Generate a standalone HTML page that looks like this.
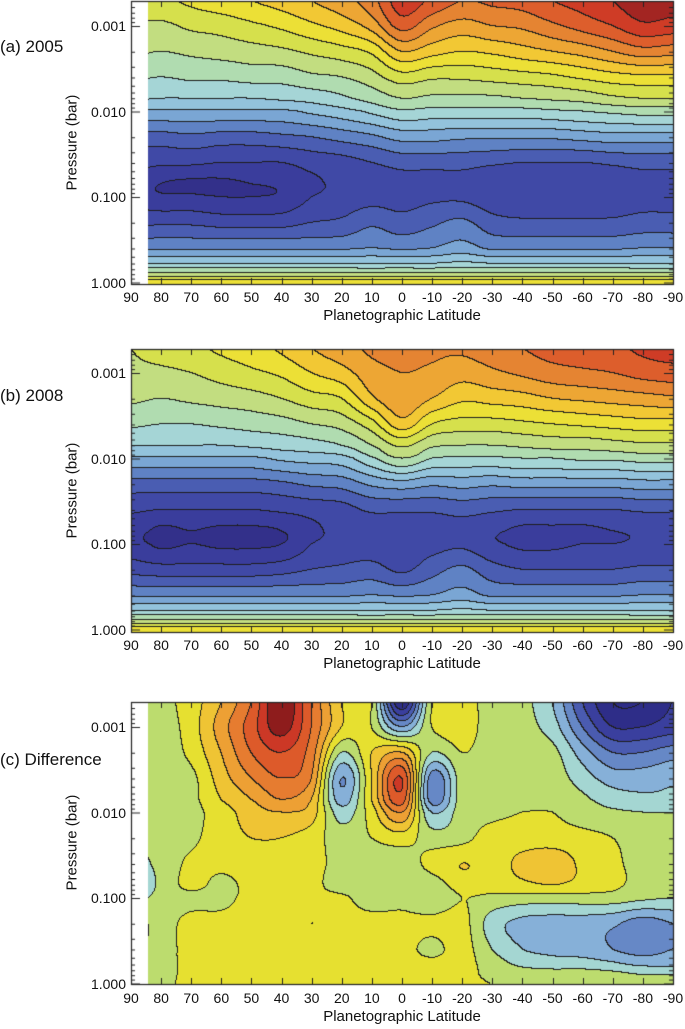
<!DOCTYPE html>
<html><head><meta charset="utf-8">
<style>
html,body{margin:0;padding:0;background:#fff;}
#wrap{position:relative;width:685px;height:1029px;overflow:hidden;font-family:"Liberation Sans",sans-serif;color:#111;}
canvas{position:absolute;left:0;top:0;}
.t{position:absolute;white-space:nowrap;line-height:1;}
.yl{font-size:14px;text-align:right;width:60px;}
.xl{font-size:14px;text-align:center;width:30px;}
.xt{font-size:15px;text-align:center;width:300px;}
.yt{font-size:15px;transform:rotate(-90deg);transform-origin:center;text-align:center;width:140px;}
.pl{font-size:17px;}
</style></head>
<body>
<div id="wrap">
<canvas id="cv" width="685" height="1029"></canvas>
</div>
<script>
// Shared vertical levels (log10 pressure in bar)
const levelsLogP = [-3.3,-3.0,-2.7,-2.4,-2.15,-2.0,-1.7,-1.4,-1.15,-1.0,-0.7,-0.4,-0.22,-0.1,0.02];
const latitudes = [90,80,70,60,50,40,30,20,10,0,-10,-20,-30,-40,-50,-60,-70,-80,-90];
const xTickLabels = ["90","80","70","60","50","40","30","20","10","0","-10","-20","-30","-40","-50","-60","-70","-80","-90"];
const yTickLabels = ["0.001","0.010","0.100","1.000"];

// Panel (a) 2005 temperatures, one array per latitude column (top -> bottom levels)
const temp2005 = [
 [127,125,121,116,111,104,93,87,83,83,89,99,110,121,134],
 [129,124,120,115,110,104,93,86,80,81,89,99,110,121,134],
 [131,126,121,116,110,104,94,86,79,81,89,99,110,121,134],
 [133,127,122,116,110,104,93,85,79,80,88,99,110,121,134],
 [135,129,123,117,110,104,93,85,80,80,88,99,110,121,134],
 [137,131,124,117,111,104,94,85,81,81,88,99,110,121,134],
 [140,134,126,119,112,106,95,87,84,85,90,99,110,121,134],
 [143,137,128,120,114,108,97,88,86,87,91,99,110,121,134],
 [148,142,131,123,117,111,99,90,87,88,94,100,110,121,134],
 [158,152,140,128,120,114,102,92,88,88,92,99,110,121,134],
 [154,146,137,126,119,113,102,92,88,89,94,100,110,121,134],
 [150,143,135,126,119,113,101,92,88,89,96,102,111,121,134],
 [151,145,136,127,119,113,101,91,86,87,92,99,110,121,134],
 [152,146,138,128,120,113,101,90,86,86,91,99,110,121,134],
 [155,149,140,129,121,114,101,90,86,86,91,99,110,121,134],
 [157,152,142,131,122,115,102,90,86,86,91,99,110,121,134],
 [160,155,145,133,124,116,103,91,87,87,91,99,110,121,134],
 [163,159,148,134,125,117,103,92,88,88,92,100,110,121,134],
 [162,158,147,134,125,117,103,92,88,88,92,100,110,121,134]
];
// Panel (b) 2008 temperatures
const temp2008 = [
 [125,124,121,116,110,104,93,86,82,82,88,99,110,121,134],
 [127,124,120,115,110,104,93,85,79,79,87,99,110,121,134],
 [129,125,121,115,110,104,93,85,80,80,87,99,110,121,134],
 [131,127,122,116,110,104,93,85,79,79,87,99,110,121,134],
 [133,129,123,117,111,104,93,85,79,79,87,99,110,121,134],
 [136,131,125,118,112,106,94,86,80,80,88,99,110,121,134],
 [140,135,128,120,113,107,96,87,84,85,90,99,110,121,134],
 [143,138,130,122,115,108,97,88,86,87,91,99,110,121,134],
 [146,143,139,128,120,114,101,91,87,87,92,100,110,121,134],
 [147,145,144,138,126,120,103,91,87,87,89,99,110,121,134],
 [146,144,140,130,121,115,101,91,87,88,93,100,110,121,134],
 [146,142,136,128,120,114,102,92,88,89,96,102,111,121,134],
 [148,144,137,128,120,114,101,91,86,86,92,99,110,121,134],
 [150,146,138,129,121,115,102,90,84,84,90,99,110,121,134],
 [152,148,140,130,122,115,102,90,84,84,90,99,110,121,134],
 [153,149,141,131,122,116,102,90,84,85,90,99,110,121,134],
 [154,150,142,132,123,116,102,90,85,85,90,99,110,121,134],
 [156,152,143,133,124,117,103,91,86,86,91,100,110,121,134],
 [157,153,144,133,124,117,103,91,86,86,91,100,110,121,134]
];
// Panel (c) difference, one array per pressure level (columns = latitudes)
const diffRows = [
 [-0.3,-0.3,0.5,2,4,7,4,1,0,-7,0,0.5,-0.5,-0.7,-2,-5,-7,-7,-6],
 [-0.3,-0.5,0.5,2.5,4.5,6.5,4,1,0,-3,0,0.5,-0.5,-0.7,-1.5,-4,-6,-6,-5.5],
 [-0.5,-0.7,0.3,2,4,5,3.5,-1,1,2,-1,0,-0.5,-0.7,-0.7,-2.5,-4,-4,-3.5],
 [-0.5,-0.8,-0.3,1.5,3,4,3,-3,1,5,-3.5,-0.5,-0.6,-0.7,-0.5,-1.5,-2.5,-2.5,-2.2],
 [-0.5,-0.7,-0.3,1,2,3,2,-2.5,1,4.5,-3.5,-0.5,-0.5,-0.3,-0.3,-0.8,-1.5,-1.8,-1.8],
 [-0.8,-0.5,-0.3,0.5,1.5,2,1.5,-1.5,0.5,3,-2,-0.5,-0.3,0,0,-0.5,-0.8,-1,-1],
 [-1,-0.5,-0.2,0.5,1,1,0.5,-0.5,0,0.5,-0.5,-0.3,0.5,0.6,0.5,0.3,0,-0.5,-0.5],
 [-1.5,-0.7,0.2,0.3,0.5,0.5,0.3,-0.3,-0.5,-0.5,0.3,1,0.7,1.2,1.6,0.8,0.2,-0.3,-0.5],
 [-2,-0.8,0.3,-0.3,0.3,0.3,0.3,-0.5,-0.5,-0.5,-0.5,0.5,0.5,0.8,1,0.7,0.2,-0.3,-0.6],
 [-1.5,-0.6,-0.3,-0.3,0.3,0.3,0.3,0.2,-0.5,-0.3,-0.8,0,-0.3,-0.5,-0.5,-0.5,-0.5,-0.8,-1],
 [0.5,-0.3,0.3,0.3,0.5,0.3,1,0.4,0.4,0.3,0.3,0.4,-1.5,-2.3,-2.5,-2.5,-2.8,-3.5,-3],
 [0.3,-0.3,0.3,0.3,0.3,0.3,0.3,0.4,0.3,0.4,-0.3,0.4,-1,-2,-2.3,-2.5,-3,-3.5,-3],
 [0.3,-0.3,0.3,0.3,0.3,0.3,0.3,0.4,0.3,0.4,0.3,0.4,-0.5,-1.2,-1.5,-1.5,-1.8,-2.2,-2.2],
 [0.3,-0.3,0.3,0.3,0.3,0.3,0.3,0.4,0.3,0.4,0.3,0.4,-0.3,-0.5,-0.5,-0.5,-0.7,-1,-1],
 [0.3,-0.2,0.3,0.3,0.3,0.3,0.3,0.4,0.3,0.4,0.3,0.4,0,-0.3,-0.3,-0.3,-0.5,-0.5,-0.5]
];

const tempColors = ['#33308a','#3a3d9c','#4049a6','#4a5db2','#5f82c4','#7aa6d4','#93c3dc','#a5d5d6','#b0dcb0','#c2dd80','#d6e04c','#ece036','#f2c834','#eda634','#e58432','#dd5e2c','#cf3c26','#a32522'];
const diffColors = ['#2e2d88','#3a3f9e','#4a5bb0','#6688c6','#86b0d8','#a4d6d2','#bcdc6e','#e6e030','#efc434','#eda034','#e67c30','#dd5a2a','#cc3826','#8e1c1c'];

const X0=131, X1=673;
const panels = [
 {name:'panel-a-2005', top:1, bottom:284, y001:26, dataX:148, get:(r,c)=>temp2005[c][r], band:v=>Math.floor((v-75)/5), colors:tempColors,
  label:'(a) 2005', labelY:38, ticksY:290, titleY:308},
 {name:'panel-b-2008', top:349, bottom:632, y001:373, dataX:131, get:(r,c)=>temp2008[c][r], band:v=>Math.floor((v-75)/5), colors:tempColors,
  label:'(b) 2008', labelY:387, ticksY:638, titleY:656},
 {name:'panel-c-difference', top:702, bottom:984, y001:727, dataX:148, get:(r,c)=>diffRows[r][c], band:v=>Math.floor(v)+7, colors:diffColors,
  label:'(c) Difference', labelY:751, ticksY:991, titleY:1009}
];
const DEC=85.5;

function hex(h){return [parseInt(h.substr(1,2),16),parseInt(h.substr(3,2),16),parseInt(h.substr(5,2),16)];}
function xOfLat(lat){return X0+(90-lat)/180*(X1-X0);}
function lPos(L){
  const n=levelsLogP.length;
  if(L<=levelsLogP[0])return 0;
  for(let i=0;i<n-1;i++){if(L<=levelsLogP[i+1])return i+(L-levelsLogP[i])/(levelsLogP[i+1]-levelsLogP[i]);}
  return n-1;
}
function cr(p0,p1,p2,p3,t){return 0.5*((2*p1)+(-p0+p2)*t+(2*p0-5*p1+4*p2-p3)*t*t+(-p0+3*p1-3*p2+p3)*t*t*t);}
function sample(P,fr,fc){
  const nr=levelsLogP.length,nc=latitudes.length;
  const r=Math.min(Math.floor(fr),nr-2),c=Math.min(Math.floor(fc),nc-2);
  const tr=fr-r,tc=fc-c;
  const cl=(v,m)=>Math.max(0,Math.min(m-1,v));
  const rows=[];
  for(let i=-1;i<=2;i++){
    const rr=cl(r+i,nr);
    rows.push(cr(P.get(rr,cl(c-1,nc)),P.get(rr,c),P.get(rr,cl(c+1,nc)),P.get(rr,cl(c+2,nc)),tc));
  }
  return cr(rows[0],rows[1],rows[2],rows[3],tr);
}

const cv=document.getElementById('cv');const ctx=cv.getContext('2d');
ctx.fillStyle='#fff';ctx.fillRect(0,0,685,1029);
const wrap=document.getElementById('wrap');
function addText(cls,txt,x,y,name){const d=document.createElement('div');d.className='t '+cls;d.textContent=txt;d.style.left=x+'px';d.style.top=y+'px';


wrap.appendChild(d);return d;}

panels.forEach(P=>{
  const w=X1-P.dataX,h=P.bottom-P.top;
  const img=ctx.createImageData(w,h);
  const bands=new Int16Array(w*h);
  const cols=P.colors.map(hex);
  for(let y=0;y<h;y++){
    const L=-3+((P.top+y+0.5)-P.y001)/DEC;const fr=lPos(L);
    for(let x=0;x<w;x++){
      const lat=90-((P.dataX+x+0.5)-X0)/(X1-X0)*180;
      const fc=Math.max(0,Math.min(latitudes.length-1,(90-lat)/10));
      bands[y*w+x]=P.band(sample(P,fr,fc));
    }
  }
  for(let y=0;y<h;y++)for(let x=0;x<w;x++){
    const b=bands[y*w+x];let col=cols[Math.max(0,Math.min(cols.length-1,b))];
    const edge=(x<w-1&&bands[y*w+x+1]!==b)||(y<h-1&&bands[(y+1)*w+x]!==b);
    if(edge)col=[30,30,30];
    const k=(y*w+x)*4;img.data[k]=col[0];img.data[k+1]=col[1];img.data[k+2]=col[2];img.data[k+3]=255;
  }
  ctx.putImageData(img,P.dataX,P.top);
  ctx.strokeStyle='#222';ctx.lineWidth=1.2;ctx.strokeRect(X0+0.5,P.top+0.5,X1-X0,h);
  ctx.lineWidth=1;ctx.beginPath();
  for(let d=-4;d<=0;d++){for(let m=1;m<=9;m++){
    const L=d+Math.log10(m);const y=P.y001+(L+3)*DEC;
    if(y<P.top||y>P.bottom)continue;const len=m===1?9:4;
    ctx.moveTo(X0,y+0.5);ctx.lineTo(X0+len,y+0.5);ctx.moveTo(X1,y+0.5);ctx.lineTo(X1-len,y+0.5);
  }}
  latitudes.forEach(lat=>{const x=Math.round(xOfLat(lat))+0.5;ctx.moveTo(x,P.bottom);ctx.lineTo(x,P.bottom-6);ctx.moveTo(x,P.top);ctx.lineTo(x,P.top+6);});
  ctx.stroke();
  yTickLabels.forEach((t,i)=>{addText('yl',t,X0-65,P.y001+i*DEC-7,'y-tick-label');});
  xTickLabels.forEach((t,i)=>{addText('xl',t,xOfLat(latitudes[i])-15,P.ticksY,'x-tick-label');});
  addText('xt','Planetographic Latitude',402-150,P.titleY,'x-axis-title');
  addText('yt','Pressure (bar)',72-70,(P.top+P.bottom)/2-8,'y-axis-title');
  addText('pl',P.label,0,P.labelY,'panel-label');
});
</script>
</body></html>
